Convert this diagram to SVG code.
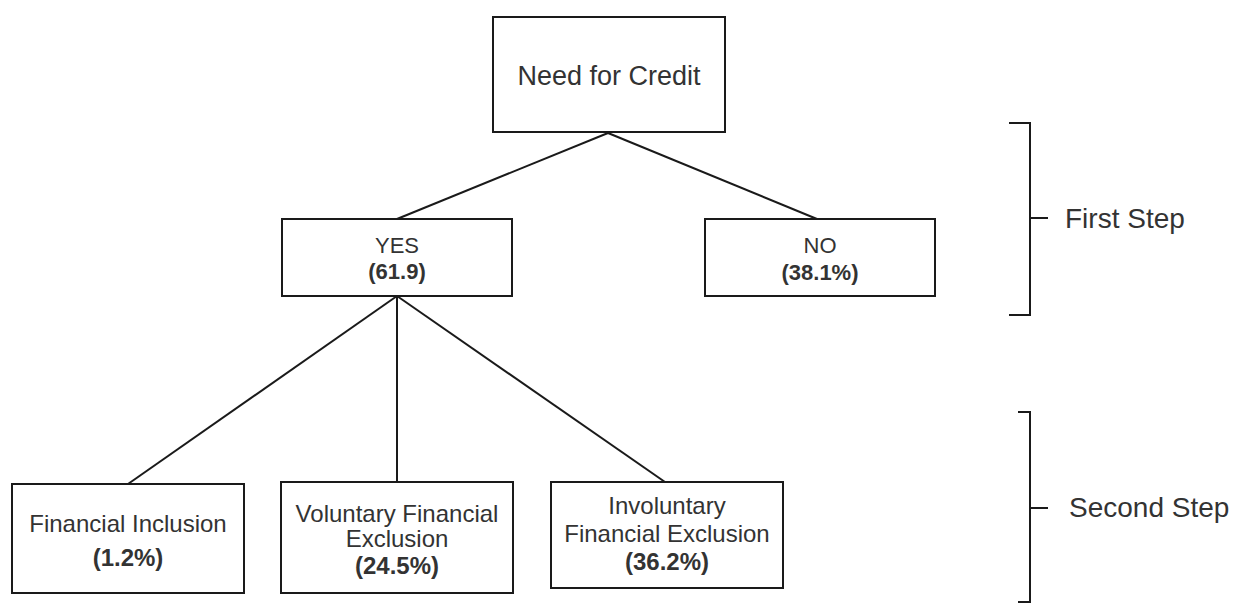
<svg xmlns="http://www.w3.org/2000/svg" width="1235" height="603" viewBox="0 0 1235 603">
<style>
.box{fill:#fff;stroke:#1a1a1a;stroke-width:2}
.t{font-family:"Liberation Sans",Arial,sans-serif;fill:#333;text-anchor:middle}
.b{font-weight:bold}
.conn line,.br path{stroke:#1a1a1a;stroke-width:2;fill:none}
.st{font-family:"Liberation Sans",Arial,sans-serif;fill:#333;font-size:28px}
</style>
<rect width="1235" height="603" fill="#fff"/>
<g class="conn" id="connectors">
<line x1="608" y1="133" x2="397" y2="219"/>
<line x1="608" y1="133" x2="817" y2="219"/>
<line x1="397" y1="296" x2="128" y2="484"/>
<line x1="397" y1="296" x2="397" y2="482"/>
<line x1="397" y1="296" x2="665" y2="482"/>
</g>
<g id="need">
<rect class="box" x="493" y="17" width="232" height="115"/>
<text class="t" x="609" y="85" font-size="27">Need for Credit</text>
</g>
<g id="yes">
<rect class="box" x="282" y="219" width="230" height="77"/>
<text class="t" x="397" y="253" font-size="22">YES</text>
<text class="t b" x="397" y="279" font-size="22">(61.9)</text>
</g>
<g id="no">
<rect class="box" x="705" y="219" width="230" height="77"/>
<text class="t" x="820" y="253" font-size="22">NO</text>
<text class="t b" x="820" y="280" font-size="22">(38.1%)</text>
</g>
<g id="inclusion">
<rect class="box" x="12" y="484" width="232" height="109"/>
<text class="t" x="128" y="532" font-size="24">Financial Inclusion</text>
<text class="t b" x="128" y="566" font-size="24">(1.2%)</text>
</g>
<g id="voluntary">
<rect class="box" x="281" y="482" width="232" height="111"/>
<text class="t" x="397" y="522" font-size="24">Voluntary Financial</text>
<text class="t" x="397" y="547" font-size="24">Exclusion</text>
<text class="t b" x="397" y="574" font-size="24">(24.5%)</text>
</g>
<g id="involuntary">
<rect class="box" x="551" y="482" width="232" height="106"/>
<text class="t" x="667" y="514" font-size="24">Involuntary</text>
<text class="t" x="667" y="542" font-size="24">Financial Exclusion</text>
<text class="t b" x="667" y="570" font-size="24">(36.2%)</text>
</g>
<g id="first-step" class="br">
<path d="M1009 123 H1030 V315 H1009 M1030 218 H1048"/>
<text class="st" x="1065" y="228">First Step</text>
</g>
<g id="second-step" class="br">
<path d="M1018 412 H1030 V602 H1018 M1030 508 H1048"/>
<text class="st" x="1069" y="517">Second Step</text>
</g>
</svg>
